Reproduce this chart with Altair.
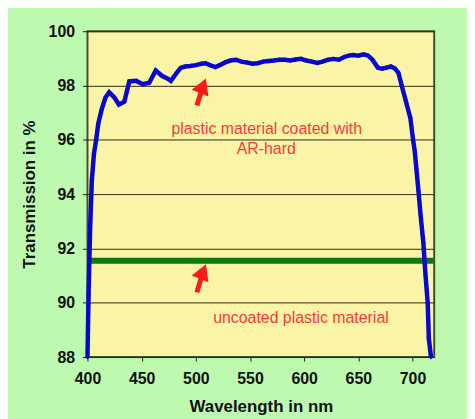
import altair as alt
import pandas as pd

# Coated (AR-hard) transmission curve
wl_coated = [400, 401, 402.5, 404, 406, 408, 410, 413, 416.5, 420, 425, 429, 434, 438.6,
             445, 451, 457, 463, 469, 474, 477, 482, 486, 490, 495, 500, 505, 509, 513,
             518, 522, 527, 532, 537, 542, 547, 552, 557, 562, 567, 572, 577, 582, 587,
             592, 597, 602, 607, 612, 617, 622, 627, 632, 637, 641, 645, 650, 655, 659,
             663, 668, 672, 676, 680, 684, 687, 690, 694, 698, 700.5, 702, 703.5, 705.5,
             707.5, 710, 712, 714, 715, 717]
t_coated = [88.0, 90.3, 92.8, 94.5, 95.5, 96.0, 96.6, 97.1, 97.55, 97.75, 97.55, 97.3, 97.4, 98.15,
            98.17, 98.05, 98.1, 98.55, 98.35, 98.25, 98.17, 98.45, 98.65, 98.7, 98.72, 98.75, 98.8, 98.82, 98.75,
            98.68, 98.75, 98.85, 98.92, 98.95, 98.88, 98.85, 98.8, 98.82, 98.88, 98.9, 98.92, 98.95, 98.95, 98.92,
            98.96, 98.98, 98.92, 98.88, 98.83, 98.88, 98.95, 98.98, 98.95, 99.05, 99.1, 99.12, 99.1, 99.15, 99.1,
            98.95, 98.65, 98.62, 98.66, 98.7, 98.62, 98.46, 98.0, 97.4, 96.8, 96.0, 95.6, 94.95, 94.1,
            93.2, 92.2, 91.0, 90.0, 88.7, 88.0]

# Uncoated plastic material
wl_uncoated = [400, 450, 500, 550, 600, 650, 700, 720]
t_uncoated = [91.55, 91.55, 91.55, 91.55, 91.55, 91.55, 91.55, 91.55]

# Annotations
labels = ["plastic material coated with", "AR-hard", "uncoated plastic material"]
label_wl = [565.4, 565.0, 597.0]
label_t = [96.4, 95.65, 89.43]

arrow_tail_wl = [501, 501]
arrow_tail_t = [97.26, 90.38]
arrow_head_wl = [506.6, 506.6]
arrow_head_t = [97.99, 91.15]

x_ticks = [400, 450, 500, 550, 600, 650, 700]
y_ticks = [88, 90, 92, 94, 96, 98, 100]

coated = pd.DataFrame({"wl": wl_coated, "t": t_coated})
uncoated = pd.DataFrame({"wl": wl_uncoated, "t": t_uncoated})
ann = pd.DataFrame({"label": labels, "wl": label_wl, "t": label_t})
arrows = pd.DataFrame({"wl": arrow_tail_wl, "t": arrow_tail_t,
                       "wl2": arrow_head_wl, "t2": arrow_head_t})

FONT = "Liberation Sans"

x_enc = alt.X("wl:Q", scale=alt.Scale(domain=[400, 720], nice=False, zero=False),
              axis=alt.Axis(values=x_ticks, title="Wavelength in nm", grid=False,
                            domain=False, tickSize=4, tickColor="#222", labelPadding=10,
                            labelFlush=False,
                            labelFont=FONT, labelFontSize=16, labelFontWeight="bold",
                            labelColor="#111", titleFont=FONT, titleFontSize=17,
                            titleFontWeight="bold", titleColor="#111",
                            titleY=50, titleBaseline="middle"))
y_enc = alt.Y("t:Q", scale=alt.Scale(domain=[88, 100], nice=False, zero=False),
              axis=alt.Axis(values=y_ticks, title="Transmission in %", grid=True,
                            gridColor="#2b2b1a", gridWidth=1, gridOpacity=1,
                            domain=False, tickSize=5, tickColor="#222", labelPadding=8,
                            labelFlush=False,
                            labelFont=FONT, labelFontSize=16, labelFontWeight="bold",
                            labelColor="#111", titleFont=FONT, titleFontSize=17,
                            titleFontWeight="bold", titleColor="#111",
                            titleX=-58, titleY=164, titleAngle=-90,
                            titleAlign="center", titleBaseline="middle"))

blue_line = alt.Chart(coated).mark_line(color="#0808cc", strokeWidth=4.5).encode(x=x_enc, y=y_enc)
blue_pts = alt.Chart(coated).mark_point(color="#0808cc", filled=True, size=22, shape="diamond",
                                        opacity=1).encode(x="wl:Q", y="t:Q")
green_line = alt.Chart(uncoated).mark_line(color="#0f7a0f", strokeWidth=6).encode(x="wl:Q", y="t:Q")

arrow_shaft = alt.Chart(arrows).mark_rule(color="#ff1a1a", strokeWidth=5).encode(
    x="wl:Q", y="t:Q", x2="wl2:Q", y2="t2:Q")
arrow_head = alt.Chart(arrows).mark_point(color="#ff1a1a", filled=True, shape="triangle-up",
                                          size=330, angle=22, opacity=1).encode(
    x="wl2:Q", y="t2:Q")

text = alt.Chart(ann).mark_text(color="#ff3a3a", font=FONT, fontSize=16).encode(
    x="wl:Q", y="t:Q", text="label:N")

chart = alt.layer(green_line, blue_line, blue_pts, arrow_shaft, arrow_head, text).properties(
    width=349, height=328, autosize="none",
    padding={"left": 80, "top": 22, "right": 33, "bottom": 61},
    background="#bdfab0",
).configure_view(fill="#faf5a6", stroke="#4a4a30", strokeWidth=2)

chart.save("out.html", embed_options={"renderer": "svg", "actions": False})
